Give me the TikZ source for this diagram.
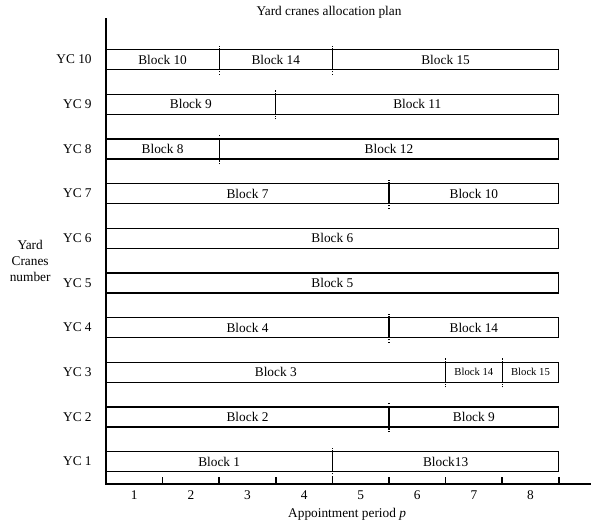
\documentclass[tikz,border=0pt]{standalone}
\usepackage{fontspec}
\setmainfont{Liberation Serif}
\usetikzlibrary{positioning}
\tikzset{
    bar/.style={draw, line width=0.9pt},
    divider/.style={densely dotted, line width=0.9pt},
    axisline/.style={line width=1.4pt},
    yclabel/.style={anchor=east},
    small/.style={font=\footnotesize}
}

\begin{document}
\begin{tikzpicture}[x=42.45pt, y=33.5pt]
            \useasboundingbox (-1.873,-1.007) rectangle (8.569,10.835);
            % axes
            \draw[axisline] (0,10.43) -- (0,0) -- (8.569,0);
            \foreach \k in {1,...,8} {
                \draw[line width=1.2pt] (\k,0) -- (\k,0.15);
                \node (p\k) at (\k-0.5,-0.25) {\k};
            }
            \foreach \i in {1,...,10}
                \node[yclabel] (yc\i) at (-0.17,\i-0.5) {YC \i};
            \node (title) at (3.94,10.57) {Yard cranes allocation plan};
            \node (xlab) at (4.26,-0.69) {Appointment period \textit{p}};
            \node[align=center] (ylab) at (-1.34,5.0) {Yard\\Cranes\\number};
            
            % YC 10
            \draw[bar] (0,9.276) rectangle (2,9.724) (2,9.276) rectangle (4,9.724) (4,9.276) rectangle (8,9.724);
            \draw[divider] (2,9.16) -- (2,9.84);
            \draw[divider] (4,9.16) -- (4,9.84);
            \node (b10a) at (1,9.5) {Block 10};
            \node (b10b) at (3,9.5) {Block 14};
            \node (b10c) at (6,9.5) {Block 15};
            % YC 9
            \draw[bar] (0,8.276) rectangle (3,8.724) (3,8.276) rectangle (8,8.724);
            \draw[divider] (3,8.16) -- (3,8.84);
            \node (b9a) at (1.5,8.5) {Block 9};
            \node (b9b) at (5.5,8.5) {Block 11};
            % YC 8
            \draw[bar] (0,7.276) rectangle (2,7.724) (2,7.276) rectangle (8,7.724);
            \draw[divider] (2,7.16) -- (2,7.84);
            \node (b8a) at (1,7.5) {Block 8};
            \node (b8b) at (5,7.5) {Block 12};
            % YC 7
            \draw[bar] (0,6.276) rectangle (5,6.724) (5,6.276) rectangle (8,6.724);
            \draw[divider] (5,6.16) -- (5,6.84);
            \node (b7a) at (2.5,6.5) {Block 7};
            \node (b7b) at (6.5,6.5) {Block 10};
            % YC 6 and YC 5
            \draw[bar] (0,5.276) rectangle (8,5.724);
            \node (b6a) at (4,5.5) {Block 6};
            \draw[bar] (0,4.276) rectangle (8,4.724);
            \node (b5a) at (4,4.5) {Block 5};
            % YC 4
            \draw[bar] (0,3.276) rectangle (5,3.724) (5,3.276) rectangle (8,3.724);
            \draw[divider] (5,3.16) -- (5,3.84);
            \node (b4a) at (2.5,3.5) {Block 4};
            \node (b4b) at (6.5,3.5) {Block 14};
            % YC 3
            \draw[bar] (0,2.276) rectangle (6,2.724) (6,2.276) rectangle (7,2.724) (7,2.276) rectangle (8,2.724);
            \draw[divider] (6,2.16) -- (6,2.84);
            \draw[divider] (7,2.16) -- (7,2.84);
            \node (b3a) at (3,2.5) {Block 3};
            \node[small] (b3b) at (6.5,2.5) {Block 14};
            \node[small] (b3c) at (7.5,2.5) {Block 15};
            % YC 2
            \draw[bar] (0,1.276) rectangle (5,1.724) (5,1.276) rectangle (8,1.724);
            \draw[divider] (5,1.16) -- (5,1.84);
            \node (b2a) at (2.5,1.5) {Block 2};
            \node (b2b) at (6.5,1.5) {Block 9};
            % YC 1
            \draw[bar] (0,0.276) rectangle (4,0.724) (4,0.276) rectangle (8,0.724);
            \draw[divider] (4,0.16) -- (4,0.84);
            \node (b1a) at (2,0.5) {Block 1};
            \node (b1b) at (6,0.5) {Block13};
        \end{tikzpicture}
\end{document}
